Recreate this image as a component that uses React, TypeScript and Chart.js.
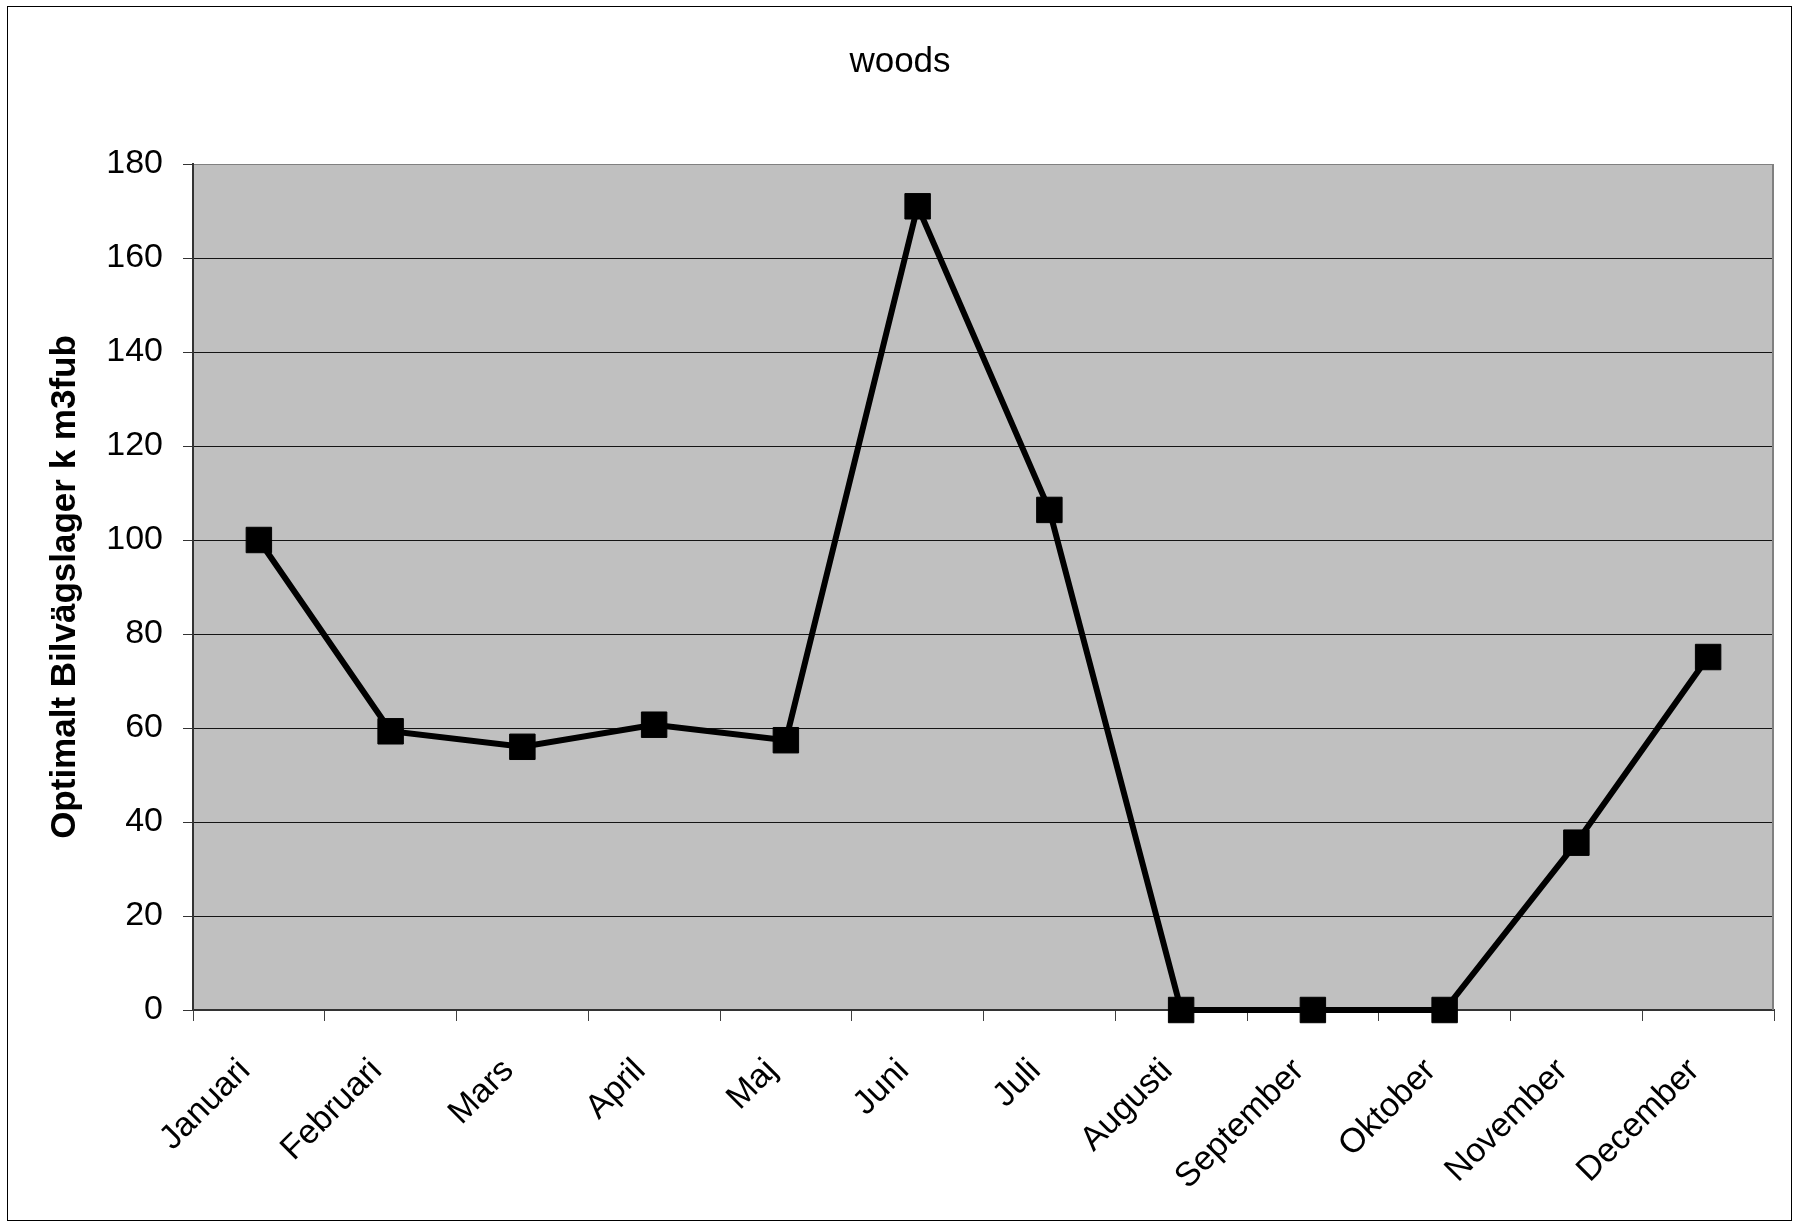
import React, { useEffect, useRef } from "react";
import { Chart, registerables } from "chart.js";

Chart.register(...registerables);

// Monthly optimal roadside stock (thousand m3fub)
const months = [
  "Januari",
  "Februari",
  "Mars",
  "April",
  "Maj",
  "Juni",
  "Juli",
  "Augusti",
  "September",
  "Oktober",
  "November",
  "December",
];
const stock = [100, 59.3, 56.0, 60.7, 57.4, 171.0, 106.4, 0, 0, 0, 35.6, 75.1];

const yMin = 0;
const yMax = 180;
const yStep = 20;

const chartTitle = "woods";
const yAxisTitle = "Optimalt Bilvägslager k m3fub";

const W = 1798;
const H = 1223;
const FONT = "'Liberation Sans', Arial, Helvetica, sans-serif";

// Grey plot background, grey right frame and the outer chart border
const plotFrame = {
  id: "plotFrame",
  beforeDraw(chart: any) {
    const { ctx, chartArea: a } = chart;
    ctx.save();
    ctx.fillStyle = "#ffffff";
    ctx.fillRect(0, 0, chart.width, chart.height);
    ctx.fillStyle = "#c0c0c0";
    ctx.fillRect(a.left, a.top, a.right - a.left, a.bottom - a.top);
    ctx.restore();
  },
  beforeDatasetsDraw(chart: any) {
    const { ctx, chartArea: a } = chart;
    ctx.save();
    ctx.strokeStyle = "#808080";
    ctx.lineWidth = 2;
    ctx.beginPath();
    ctx.moveTo(a.right - 1, a.top);
    ctx.lineTo(a.right - 1, a.bottom);
    ctx.stroke();
    ctx.restore();
  },
  afterDraw(chart: any) {
    const { ctx } = chart;
    ctx.save();
    ctx.strokeStyle = "#000000";
    ctx.lineWidth = 1;
    ctx.strokeRect(7.5, 6.5, 1784, 1214);
    ctx.restore();
  },
};

export default function App() {
  const canvasRef = useRef<HTMLCanvasElement | null>(null);

  useEffect(() => {
    const canvas = canvasRef.current;
    if (!canvas) return;

    const chart = new Chart(canvas, {
      type: "line",
      data: {
        labels: months,
        datasets: [
          {
            data: stock,
            clip: false,
            borderColor: "#000000",
            borderWidth: 6,
            backgroundColor: "#000000",
            pointStyle: "rect",
            pointRadius: 18,
            pointBorderWidth: 1,
            pointBorderColor: "#000000",
            pointBackgroundColor: "#000000",
            tension: 0,
            fill: false,
          },
        ],
      },
      options: {
        responsive: false,
        animation: false,
        events: [],
        layout: { padding: { left: 26, right: 24, top: 0, bottom: 0 } },
        plugins: {
          legend: { display: false },
          tooltip: { enabled: false },
          title: {
            display: true,
            text: chartTitle,
            color: "#000000",
            font: { family: FONT, size: 35, weight: "normal", lineHeight: 1.2 },
            padding: { top: 41, bottom: 81 },
          },
        },
        scales: {
          x: {
            type: "category",
            offset: true,
            afterFit: (s: any) => {
              s.height = 213;
            },
            grid: {
              display: true,
              offset: true,
              drawOnChartArea: false,
              drawTicks: true,
              tickLength: 11,
              tickColor: "#404040",
              tickWidth: 1,
            },
            border: { display: true, color: "#333333", width: 2 },
            ticks: {
              autoSkip: false,
              minRotation: 45,
              maxRotation: 45,
              padding: 30,
              labelOffset: -14,
              color: "#000000",
              font: { family: FONT, size: 34, lineHeight: 1.2 },
            },
          },
          y: {
            min: yMin,
            max: yMax,
            afterFit: (s: any) => {
              s.width = 167;
            },
            grid: {
              color: (c: any) => (c.tick && c.tick.value === yMax ? "#808080" : "#141414"),
              lineWidth: 1,
              drawTicks: true,
              tickLength: 10,
              tickColor: "#333333",
            },
            border: { display: true, color: "#333333", width: 2 },
            ticks: {
              stepSize: yStep,
              padding: 20,
              color: "#000000",
              font: { family: FONT, size: 34, lineHeight: 1.2 },
            },
            title: {
              display: true,
              text: yAxisTitle,
              color: "#000000",
              font: { family: FONT, size: 35, weight: "bold", lineHeight: 1.2 },
              padding: { top: 18, bottom: 0 },
            },
          },
        },
      },
      plugins: [plotFrame],
    });

    return () => {
      chart.destroy();
    };
  }, []);

  return (
    <div style={{ position: "fixed", left: 0, top: 0, width: W, height: H }}>
      <canvas ref={canvasRef} width={W} height={H} style={{ display: "block", width: W, height: H }} />
    </div>
  );
}
